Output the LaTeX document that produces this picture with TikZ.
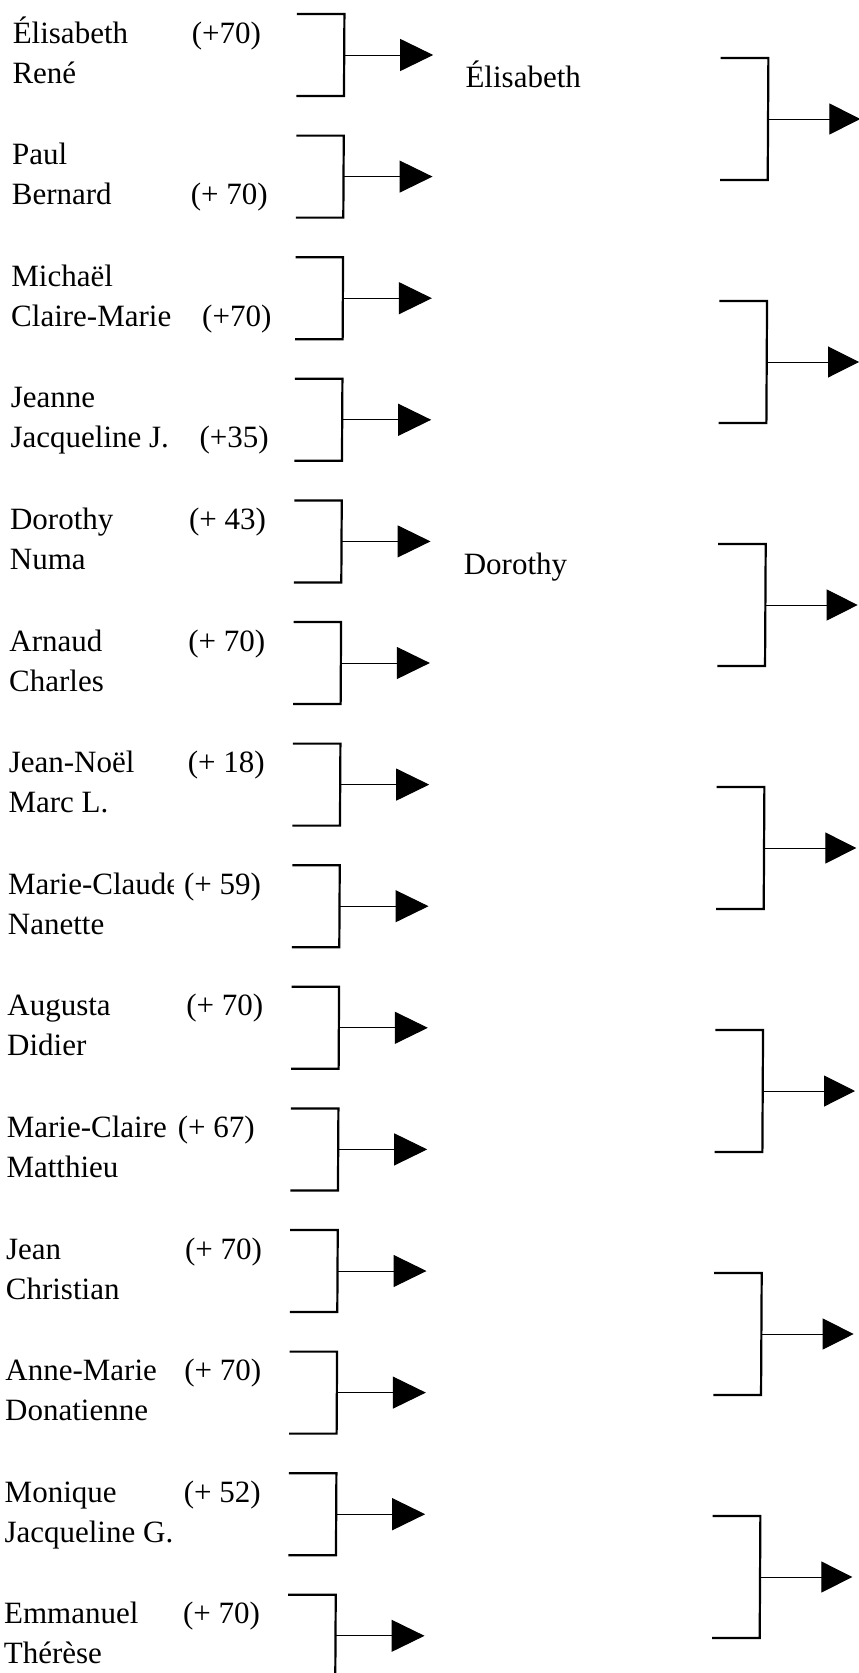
\documentclass[tikz,border=0pt]{standalone}
\usepackage{fontspec}
\setmainfont{Liberation Serif}
\usetikzlibrary{arrows.meta}
\tikzset{
  brk/.style={line width=2.2pt, line join=miter},
  arrL/.style={line width=1pt, -{Triangle[length=33pt,width=32pt]}},
  arrR/.style={line width=1pt, -{Triangle[length=31pt,width=31pt]}},
  lbl/.style={anchor=base west, inner sep=0pt, outer sep=0pt, font=\fontsize{31}{37}\selectfont}
}
\begin{document}
\begin{tikzpicture}[x=1pt,y=-1pt]
\useasboundingbox (0,0) rectangle (859,1673);
\clip (0,0) rectangle (859,1673);
\fill[white] (0,0) rectangle (859,1673);
\begin{scope}[xslant=0.0055]
% left brackets
\foreach \k in {0,...,13} {
  \pgfmathsetmacro\t{14+121.6*\k}
  \coordinate (ltl\k) at (297,\t);
  \coordinate (ltr\k) at (344.5,\t);
  \coordinate (lbr\k) at (344.5,\t+82);
  \coordinate (lbl\k) at (297,\t+82);
  \coordinate (lm\k) at (344.5,\t+41);
  \coordinate (la\k) at (433.5,\t+41);
  \draw[brk] (ltl\k) -- (ltr\k) -- (lbr\k) -- (lbl\k);
  \draw[arrL] (lm\k) -- (la\k);
}
% right brackets
\foreach \k in {0,...,6} {
  \pgfmathsetmacro\t{58+243*\k}
  \coordinate (rtl\k) at (721,\t);
  \coordinate (rtr\k) at (768.7,\t);
  \coordinate (rbr\k) at (768.7,\t+122);
  \coordinate (rbl\k) at (721,\t+122);
  \coordinate (rm\k) at (768.7,\t+61);
  \coordinate (ra\k) at (861,\t+61);
  \draw[brk] (rtl\k) -- (rtr\k) -- (rbr\k) -- (rbl\k);
  \draw[arrR] (rm\k) -- (ra\k);
}
% names
\foreach \k/\pa/\pb/\num/\ln/\nx in {
  0/Élisabeth/René/(+70)/1/192,
  1/Paul/Bernard/(+ 70)/2/192,
  2/Michaël/Claire-Marie/(+70)/2/204,
  3/Jeanne/Jacqueline J./(+35)/2/202,
  4/Dorothy/Numa/(+ 43)/1/192,
  5/Arnaud/Charles/(+ 70)/1/192,
  6/Jean-Noël/Marc L./(+ 18)/1/192,
  8/Augusta/Didier/(+ 70)/1/192,
  9/Marie-Claire/Matthieu/(+ 67)/1/184,
  10/Jean/Christian/(+ 70)/1/192,
  11/Anne-Marie/Donatienne/(+ 70)/1/192,
  12/Monique/Jacqueline G./(+ 52)/1/192,
  13/Emmanuel/Thérèse/(+ 70)/1/192} {
  \pgfmathsetmacro\t{14+121.6*\k}
  \pgfmathsetmacro\ny{\t+29+40*(\ln-1)}
  \node[lbl] (a\k) at (13,\t+29) {\pa};
  \node[lbl] (b\k) at (13,\t+69) {\pb};
  \node[lbl] (n\k) at (\nx,\ny) {\num};
}
% row 7 (first name clipped in the original)
\pgfmathsetmacro\t{14+121.6*7}
\begin{scope}
  \clip (0,\t) rectangle (178.5,\t+45);
  \node[lbl] (a7) at (13,\t+29) {Marie-Claude};
\end{scope}
\node[lbl] (b7) at (13,\t+69) {Nanette};
\node[lbl] (n7) at (189,\t+29) {(+ 59)};
% winners
\node[lbl] (w0) at (466,87) {Élisabeth};
\node[lbl] (w1) at (467,574) {Dorothy};
\end{scope}
\end{tikzpicture}
\end{document}
